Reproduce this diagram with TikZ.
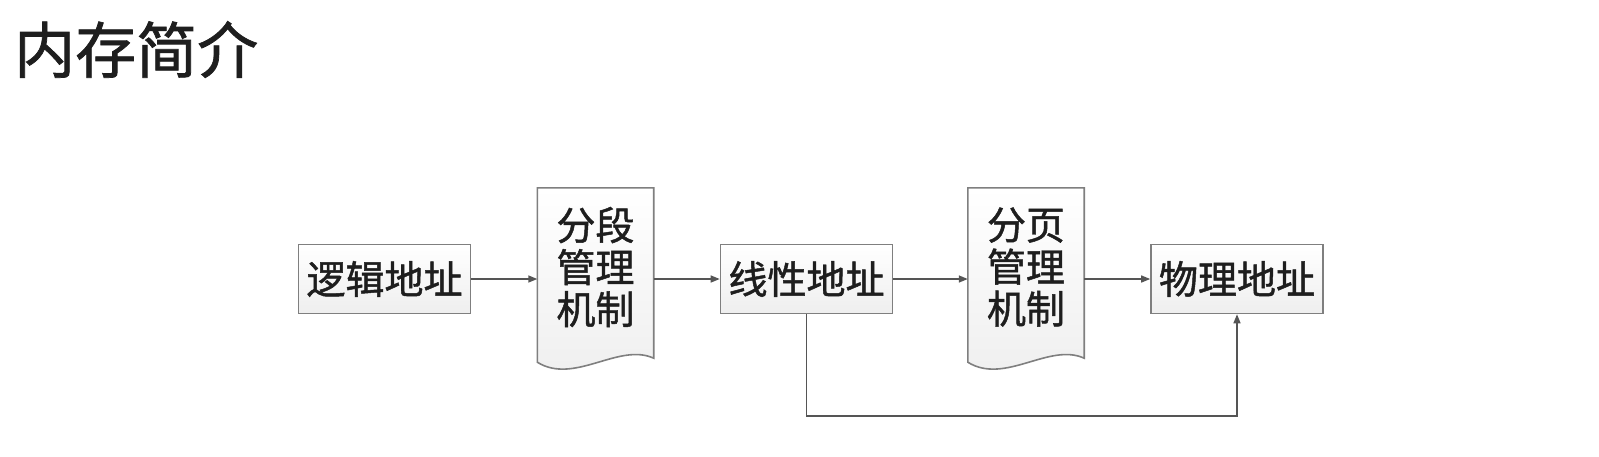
\documentclass[tikz,border=0pt]{standalone}
\usepackage{fontspec}
\setmainfont[RawFeature={embolden=1.2}]{Noto Sans CJK SC}
\usetikzlibrary{arrows.meta}
\definecolor{edgegray}{HTML}{7F7F7F}
\definecolor{linegray}{HTML}{555555}
\definecolor{txt}{HTML}{1E1E1E}
\tikzset{
  addrbox/.style={draw=edgegray, line width=1.6pt, top color=white, bottom color=gray!13,
    minimum width=172pt, minimum height=69pt, inner sep=0pt, text=txt,
    font=\fontsize{39}{42}\selectfont},
  docarea/.style={inner sep=0pt, minimum width=116pt, minimum height=174pt},
  docshape/.style={draw=edgegray, line width=1.6pt, top color=white, bottom color=gray!13},
  doctext/.style={text=txt, align=center, inner sep=0pt, font=\fontsize{39}{42}\selectfont},
  conn/.style={draw=linegray, line width=1.4pt, -{Triangle[length=9pt,width=7pt]}},
  titletext/.style={text=txt, anchor=north west, inner sep=0pt, font=\fontsize{61}{63}\selectfont}
}
\begin{document}
\begin{tikzpicture}[x=1pt,y=1pt]
\useasboundingbox (0,0) rectangle (1599,-456);
\fill[white] (0,0) rectangle (1599,-456);

\node[titletext] (title) at (14,-21) {内存简介};

% boxes
\node[addrbox] (logic) at (384.5,-279) {逻辑地址};
\node[addrbox] (linear) at (806.5,-279) {线性地址};
\node[addrbox] (phys) at (1237,-279) {物理地址};

% document shapes
\node[docarea] (seg) at (595.5,-275) {};
\path[docshape] (seg.north west) -- (seg.north east) -- ([yshift=4pt]seg.south east)
  .. controls ([xshift=-35pt,yshift=20pt]seg.south east) and ([xshift=37pt,yshift=-23pt]seg.south west) .. (seg.south west) -- cycle;
\node[doctext] (segtext) at (595.5,-267) {分段\\管理\\机制};

\node[docarea] (page) at (1026,-275) {};
\path[docshape] (page.north west) -- (page.north east) -- ([yshift=4pt]page.south east)
  .. controls ([xshift=-35pt,yshift=20pt]page.south east) and ([xshift=37pt,yshift=-23pt]page.south west) .. (page.south west) -- cycle;
\node[doctext] (pagetext) at (1026,-267) {分页\\管理\\机制};

% connectors
\draw[conn] (logic.east) -- (logic.east -| seg.west);
\draw[conn] (seg.east |- linear.west) -- (linear.west);
\draw[conn] (linear.east) -- (linear.east -| page.west);
\draw[conn] (page.east |- phys.west) -- (phys.west);
\coordinate (loopy) at (0,-416);
\draw[conn] (linear.south) -- (linear.south |- loopy) -- (phys.south |- loopy) -- (phys.south);
\end{tikzpicture}
\end{document}
